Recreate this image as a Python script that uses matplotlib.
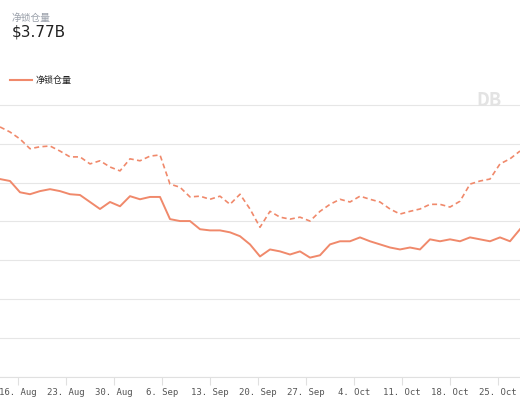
import matplotlib
matplotlib.use("Agg")
import matplotlib.pyplot as plt
import matplotlib.dates as mdates
import pandas as pd

plt.rcParams['font.family'] = ['Noto Sans CJK SC', 'DejaVu Sans']

solid = [5.09,5.04,4.75,4.70,4.78,4.83,4.78,4.70,4.68,4.50,4.32,4.50,4.39,4.65,4.57,4.63,4.63,4.06,4.01,4.01,
         3.80,3.77,3.77,3.72,3.62,3.41,3.10,3.28,3.23,3.15,3.23,3.07,3.13,3.41,3.49,3.49,3.59,3.49,3.41,3.33,
         3.28,3.33,3.28,3.54,3.49,3.54,3.49,3.59,3.54,3.49,3.59,3.49,3.80]
dashed = [6.43,6.30,6.12,5.87,5.92,5.94,5.81,5.66,5.66,5.48,5.56,5.40,5.30,5.61,5.56,5.68,5.71,4.96,4.88,4.63,
          4.65,4.57,4.65,4.44,4.70,4.32,3.85,4.26,4.11,4.06,4.11,4.01,4.26,4.44,4.57,4.50,4.65,4.57,4.50,4.32,
          4.19,4.26,4.32,4.44,4.44,4.37,4.52,4.96,5.04,5.09,5.48,5.61,5.81]
dates = pd.date_range("2021-08-13 10:00", periods=len(solid), freq="35h")
tick_dates = pd.date_range("2021-08-16", "2021-10-25", freq="7D")

color = "#f0896b"
fig = plt.figure(figsize=(5.2, 4), dpi=100)
ax = fig.add_axes([0, 0.0575, 1, 0.70])
ax.plot(dates, solid, color=color, lw=1.4)
ax.plot(dates, dashed, color=color, lw=1.2, ls=(0, (3, 2)))
ax.set_xlim(dates[0], dates[-1])
ax.set_ylim(0, 7.2)
ax.set_yticks(range(0, 8))
ax.yaxis.grid(True, color="#e6e6e6", lw=0.8)
ax.tick_params(axis='y', left=False, labelleft=False)
ax.set_xticks(tick_dates)
ax.xaxis.set_major_formatter(mdates.DateFormatter("%-d. %b"))
ax.tick_params(axis='x', length=6, color="#e0e0e0", labelsize=6.5, labelcolor="#555555", pad=2)
for lbl in ax.get_xticklabels():
    lbl.set_family("DejaVu Sans Mono")
for s in ["top", "right", "left"]:
    ax.spines[s].set_visible(False)
ax.spines["bottom"].set_color("#e0e0e0")

fig.text(12/520, 1-18/400, "净锁仓量", fontsize=7, color="#9aa0aa", va="center")
fig.text(12/520, 1-32/400, "$3.77B", fontsize=11, color="#222222", va="center", family="DejaVu Sans")
fig.add_artist(plt.Line2D([10/520, 32/520], [1-80/400]*2, color=color, lw=1.5))
fig.text(36/520, 1-80/400, "净锁仓量", fontsize=6.5, color="#222222", va="center")
fig.text(476/520, 1-100/400, "DB", fontsize=13, color="#e3e3e3", va="center", weight="bold")

fig.savefig("out.png", dpi=100, facecolor="white")
